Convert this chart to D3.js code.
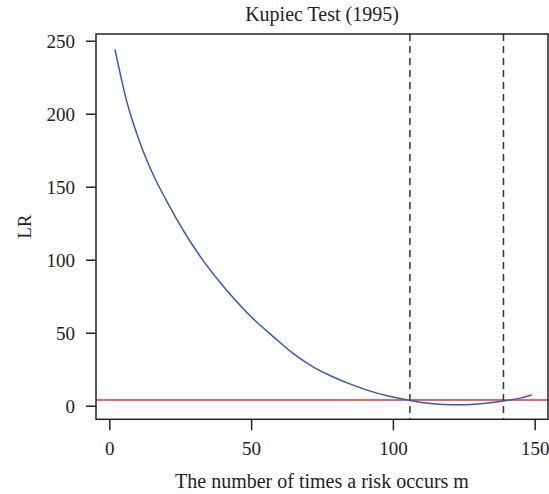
<!DOCTYPE html>
<html>
<head>
<meta charset="utf-8">
<script src="https://cdn.jsdelivr.net/npm/d3@7"></script>
<style>
  body { margin: 0; background: #fff; }
  svg { display: block; font-family: "Liberation Serif", "DejaVu Serif", serif; }
</style>
</head>
<body>
<svg class="chart" width="549" height="494"></svg>
<script>
// LR statistic against number of exceptions m
var mValues  = [2, 4, 6, 8, 12, 16, 20, 24, 28, 34, 41, 50, 58, 65, 72, 78, 85, 92, 98, 106, 114, 121, 130, 139, 145, 149];
var lrValues = [244, 226, 209.5, 196, 174, 156, 141, 127, 114, 97, 80, 61, 47, 35.5, 26.5, 20.5, 14.8, 10, 6.8, 3.6, 1.4, 0.6, 1.2, 3.2, 5.2, 7.3];
var criticalValue = [3.84];
var boundLines = [106, 139];
var xTicks = [0, 50, 100, 150];
var yTicks = [0, 50, 100, 150, 200, 250];
var chartTitle = "Kupiec Test (1995)";
var xTitle = "The number of times a risk occurs m";
var yTitle = "LR";

var vis = d3.select(".chart"),
    BOX = { left: 96, right: 548, top: 34, bottom: 419.3 },
    FONT = 19;

var xScale = d3.scaleLinear().domain([-4.7, 154.7]).range([BOX.left, BOX.right]),
    yScale = d3.scaleLinear().domain([-9.3, 254.6]).range([BOX.bottom, BOX.top]);

var data = mValues.map(function(m, i) { return { m: m, lr: lrValues[i] }; });

// title
vis.append("text")
    .attr("x", (BOX.left + BOX.right) / 2)
    .attr("y", 21)
    .attr("text-anchor", "middle")
    .attr("font-size", FONT + 1)
    .attr("fill", "#222")
    .text(chartTitle);

// axes (ticks only, no axis line)
var xAxis = d3.axisBottom(xScale).tickValues(xTicks).tickSize(11).tickSizeOuter(0);
var gx = vis.append("g")
    .attr("transform", "translate(0," + BOX.bottom + ")")
    .call(xAxis)
    .attr("font-family", null)
    .attr("font-size", FONT);
gx.select(".domain").remove();
gx.selectAll("line").attr("stroke", "#222").attr("stroke-width", 1.5);
gx.selectAll("text")
    .attr("y", 35.7).attr("dy", 0)
    .attr("fill", "#222");

var yAxis = d3.axisLeft(yScale).tickValues(yTicks).tickSize(10).tickSizeOuter(0);
var gy = vis.append("g")
    .attr("transform", "translate(" + BOX.left + ",0)")
    .call(yAxis)
    .attr("font-family", null)
    .attr("font-size", FONT);
gy.select(".domain").remove();
gy.selectAll("line").attr("stroke", "#222").attr("stroke-width", 1.5);
gy.selectAll("text")
    .attr("x", -21).attr("dy", "0.34em")
    .attr("fill", "#222");

// axis titles
vis.append("text")
    .attr("x", (BOX.left + BOX.right) / 2)
    .attr("y", 488)
    .attr("text-anchor", "middle")
    .attr("font-size", FONT + 1)
    .attr("fill", "#222")
    .text(xTitle);

vis.append("text")
    .attr("transform", "translate(31," + ((BOX.top + BOX.bottom) / 2) + ") rotate(-90)")
    .attr("text-anchor", "middle")
    .attr("font-size", FONT)
    .attr("fill", "#222")
    .text(yTitle);

// critical value line
vis.selectAll(".crit").data(criticalValue).enter().append("line")
    .attr("x1", BOX.left).attr("x2", BOX.right)
    .attr("y1", function(d) { return yScale(d); })
    .attr("y2", function(d) { return yScale(d); })
    .attr("stroke", "#e3323c")
    .attr("stroke-width", 1.5);

// acceptance bounds
vis.selectAll(".bound").data(boundLines).enter().append("line")
    .attr("x1", function(d) { return xScale(d); })
    .attr("x2", function(d) { return xScale(d); })
    .attr("y1", BOX.top).attr("y2", BOX.bottom)
    .attr("stroke", "#333")
    .attr("stroke-width", 1.5)
    .attr("stroke-dasharray", "7,5");

// LR curve
var lineGen = d3.line()
    .x(function(d) { return xScale(d.m); })
    .y(function(d) { return yScale(d.lr); })
    .curve(d3.curveCatmullRom);

vis.append("path")
    .attr("d", lineGen(data))
    .attr("stroke", "#3a57b2")
    .attr("stroke-width", 1.5)
    .attr("fill", "none");

// plot box
vis.append("rect")
    .attr("x", BOX.left).attr("y", BOX.top)
    .attr("width", BOX.right - BOX.left).attr("height", BOX.bottom - BOX.top)
    .attr("fill", "none")
    .attr("stroke", "#222")
    .attr("stroke-width", 1.5);
</script>
</body>
</html>
